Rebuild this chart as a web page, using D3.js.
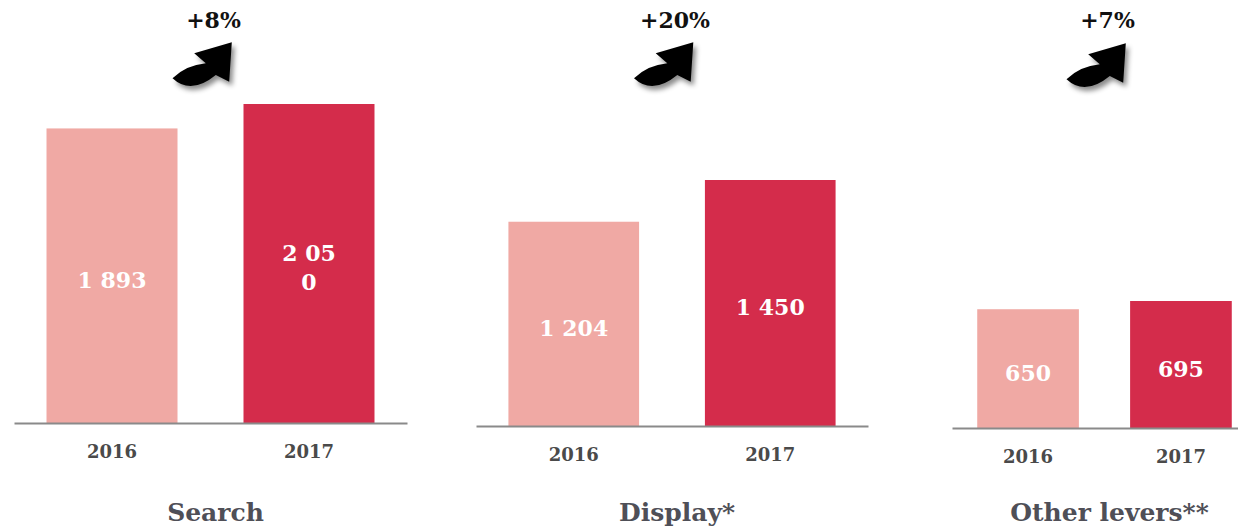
<!DOCTYPE html>
<html>
<head>
<meta charset="utf-8">
<script src="https://cdn.jsdelivr.net/npm/d3@7"></script>
<style>
  html, body { margin: 0; padding: 0; background: #ffffff; }
  svg { display: block; }
</style>
</head>
<body>
<svg id="chart" width="1238" height="528"></svg>
<script>
// ---- data ----
const categories = ["Search", "Display*", "Other levers**"];
const years = ["2016", "2017"];
const values2016 = [1893, 1204, 650];
const values2017 = [2050, 1450, 695];
const valueLabels2016 = ["1 893", "1 204", "650"];
const valueLabels2017 = ["2 05\n0", "1 450", "695"];
const growthLabels = ["+8%", "+20%", "+7%"];

// ---- layout (per panel) ----
const panels = [
  { x0: 14,  x1: 407,  base: 423, top: 104, arrowY: 42 },
  { x0: 476, x1: 868,  base: 426, top: 180, arrowY: 42 },
  { x0: 952, x1: 1257, base: 428, top: 301, arrowY: 43 }
];
const colors = ["#f0a9a4", "#d42c4b"];
const serif = "'DejaVu Serif', 'Liberation Serif', serif";

const svg = d3.select("#chart");
const defs = svg.append("defs");
const f = defs.append("filter").attr("id", "shadow")
  .attr("x", "-30%").attr("y", "-30%").attr("width", "170%").attr("height", "170%");
f.append("feDropShadow").attr("dx", 3).attr("dy", 4).attr("stdDeviation", 2.5)
  .attr("flood-color", "#000").attr("flood-opacity", 0.45);

// curved (hooked) arrow shape in local coords
const arrowPath = "M0,36.3 Q13.4,23.2 33.3,21.3 L21.7,11.3 L59.3,0.3 L56.7,39.7 L43.3,33 Q18.4,53.4 0,36.3 Z";

categories.forEach((cat, i) => {
  const p = panels[i];
  const vals = [values2016[i], values2017[i]];
  const labels = [valueLabels2016[i], valueLabels2017[i]];

  const x = d3.scaleBand().domain(years).range([p.x0, p.x1])
    .paddingInner(0.335).paddingOuter(0.165);
  const y = d3.scaleLinear().domain([0, d3.max(vals)]).range([p.base, p.top]);

  const g = svg.append("g");

  // bars
  g.selectAll("rect.bar").data(years).join("rect")
    .attr("class", "bar")
    .attr("x", d => x(d))
    .attr("width", x.bandwidth())
    .attr("y", (d, j) => y(vals[j]))
    .attr("height", (d, j) => p.base - y(vals[j]))
    .attr("fill", (d, j) => colors[j]);

  // value labels
  years.forEach((yr, j) => {
    const lines = labels[j].split("\n");
    const cx = x(yr) + x.bandwidth() / 2;
    const cy = (y(vals[j]) + p.base) / 2 + 4;
    const lh = 29;
    const t = g.append("text")
      .attr("text-anchor", "middle")
      .attr("font-family", serif)
      .attr("font-weight", "bold")
      .attr("font-size", 22)
      .attr("fill", "#ffffff");
    lines.forEach((ln, k) => {
      t.append("tspan")
        .attr("x", cx)
        .attr("y", cy + (k - (lines.length - 1) / 2) * lh)
        .attr("dominant-baseline", "central")
        .text(ln);
    });
  });

  // axis
  const ax = g.append("g")
    .attr("transform", `translate(0,${p.base})`)
    .call(d3.axisBottom(x).tickSize(0).tickSizeOuter(0).tickPadding(22));
  ax.select(".domain").attr("stroke", "#8a8a8a").attr("stroke-width", 2);
  ax.selectAll(".tick text")
    .attr("font-family", serif)
    .attr("font-weight", "bold")
    .attr("font-size", 18)
    .attr("fill", "#4a4a4a");

  const center = (x(years[0]) + x(years[1]) + x.bandwidth()) / 2;

  // category title
  g.append("text")
    .attr("x", center + 5)
    .attr("y", 521)
    .attr("text-anchor", "middle")
    .attr("font-family", serif)
    .attr("font-weight", "bold")
    .attr("font-size", 25)
    .attr("fill", "#4f4f57")
    .text(cat);

  // growth label
  g.append("text")
    .attr("x", center + 3)
    .attr("y", 28)
    .attr("text-anchor", "middle")
    .attr("font-family", serif)
    .attr("font-weight", "bold")
    .attr("font-size", 22)
    .attr("fill", "#111111")
    .text(growthLabels[i]);

  // curved arrow
  g.append("path")
    .attr("d", arrowPath)
    .attr("transform", `translate(${center - 38},${p.arrowY})`)
    .attr("fill", "#000000")
    .attr("filter", "url(#shadow)");
});
</script>
</body>
</html>
